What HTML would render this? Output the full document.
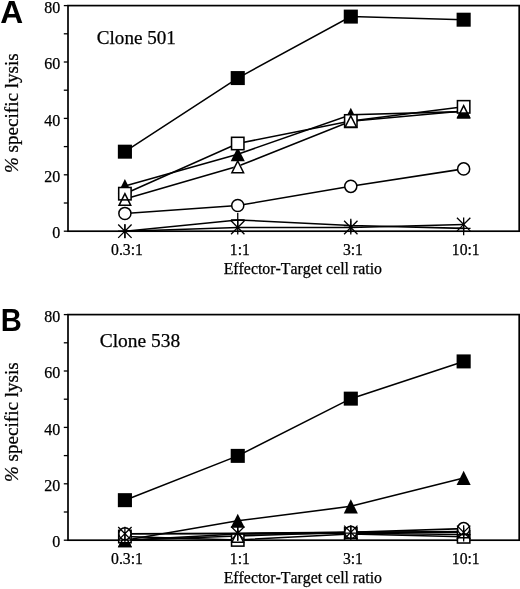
<!DOCTYPE html>
<html><head><meta charset="utf-8"><title>Figure</title>
<style>html,body{margin:0;padding:0;background:#fff}svg{display:block}</style>
</head><body>
<svg width="520" height="589" viewBox="0 0 520 589">
<style>
text{fill:#000;font-kerning:none;stroke:#000;stroke-width:0.25px}
.lab{stroke:none}
.t16{font-family:"Liberation Serif",serif;font-size:16px}
.t18{font-family:"Liberation Serif",serif;font-size:18px}
.t19{font-family:"Liberation Serif",serif;font-size:19.1px}
.lab{font-family:"Liberation Sans",sans-serif;font-weight:bold;font-size:29.5px}
</style>
<rect width="520" height="589" fill="#fff"/>
<rect x="68.0" y="5.60" width="451.20000000000005" height="225.60" fill="none" stroke="#000" stroke-width="1.7"/>
<line x1="63.8" y1="231.20" x2="68.0" y2="231.20" stroke="#000" stroke-width="1.3"/>
<line x1="63.8" y1="203.00" x2="68.0" y2="203.00" stroke="#000" stroke-width="1.3"/>
<line x1="63.8" y1="174.80" x2="68.0" y2="174.80" stroke="#000" stroke-width="1.3"/>
<line x1="63.8" y1="146.60" x2="68.0" y2="146.60" stroke="#000" stroke-width="1.3"/>
<line x1="63.8" y1="118.40" x2="68.0" y2="118.40" stroke="#000" stroke-width="1.3"/>
<line x1="63.8" y1="90.20" x2="68.0" y2="90.20" stroke="#000" stroke-width="1.3"/>
<line x1="63.8" y1="62.00" x2="68.0" y2="62.00" stroke="#000" stroke-width="1.3"/>
<line x1="63.8" y1="33.80" x2="68.0" y2="33.80" stroke="#000" stroke-width="1.3"/>
<line x1="63.8" y1="5.60" x2="68.0" y2="5.60" stroke="#000" stroke-width="1.3"/>
<text x="60.2" y="238.40" text-anchor="end" class="t16">0</text>
<text x="60.2" y="182.00" text-anchor="end" class="t16">20</text>
<text x="60.2" y="125.60" text-anchor="end" class="t16">40</text>
<text x="60.2" y="69.20" text-anchor="end" class="t16">60</text>
<text x="60.2" y="12.80" text-anchor="end" class="t16">80</text>
<text x="127.0" y="255.30" text-anchor="middle" class="t16" style="font-size:15.7px">0.3:1</text>
<text x="239.85" y="255.30" text-anchor="middle" class="t16" style="font-size:15.7px">1:1</text>
<text x="352.90000000000003" y="255.30" text-anchor="middle" class="t16" style="font-size:15.7px">3:1</text>
<text x="465.75" y="255.30" text-anchor="middle" class="t16" style="font-size:15.7px">10:1</text>
<text x="302.8" y="274.40" text-anchor="middle" class="t16" style="font-size:15.85px">Effector-Target cell ratio</text>
<text transform="translate(18.1,113.20) rotate(-90) scale(1.061,1)" text-anchor="middle" class="t18"><tspan font-style="italic">%</tspan> specific lysis</text>
<text x="96.8" y="43.50" class="t19">Clone 501</text>
<text transform="translate(0.3,23.0) scale(1.038,1)" class="lab" style="font-size:30.6px">A</text>
<polyline points="124.90,151.68 237.75,78.07 350.80,16.60 463.65,19.70" fill="none" stroke="#000" stroke-width="1.55"/>
<polyline points="124.90,186.08 237.75,154.21 350.80,114.73 463.65,111.63" fill="none" stroke="#000" stroke-width="1.55"/>
<polyline points="124.90,193.69 237.75,143.50 350.80,120.94 463.65,106.84" fill="none" stroke="#000" stroke-width="1.55"/>
<polyline points="124.90,199.05 237.75,166.34 350.80,121.22 463.65,111.07" fill="none" stroke="#000" stroke-width="1.55"/>
<polyline points="124.90,213.43 237.75,205.54 350.80,186.36 463.65,168.88" fill="none" stroke="#000" stroke-width="1.55"/>
<polyline points="124.90,231.20 237.75,227.53 350.80,227.53 463.65,224.43" fill="none" stroke="#000" stroke-width="1.55"/>
<polyline points="124.90,231.20 237.75,219.92 350.80,225.56 463.65,228.38" fill="none" stroke="#000" stroke-width="1.55"/>
<rect x="117.85" y="144.68" width="14.1" height="14" fill="#000"/>
<rect x="230.70" y="71.07" width="14.1" height="14" fill="#000"/>
<rect x="343.75" y="9.60" width="14.1" height="14" fill="#000"/>
<rect x="456.60" y="12.70" width="14.1" height="14" fill="#000"/>
<polygon points="124.90,192.00 131.95,206.10 117.85,206.10" fill="#fff"/>
<polygon points="237.75,159.29 244.80,173.39 230.70,173.39" fill="#fff"/>
<polygon points="350.80,114.17 357.85,128.27 343.75,128.27" fill="#fff"/>
<polygon points="463.65,104.02 470.70,118.12 456.60,118.12" fill="#fff"/>
<polygon points="124.90,179.03 131.95,193.13 117.85,193.13" fill="#000"/>
<polygon points="237.75,147.16 244.80,161.26 230.70,161.26" fill="#000"/>
<polygon points="350.80,107.68 357.85,121.78 343.75,121.78" fill="#000"/>
<polygon points="463.65,104.58 470.70,118.68 456.60,118.68" fill="#000"/>
<rect x="118.70" y="187.49" width="12.4" height="12.4" fill="#fff" stroke="#000" stroke-width="1.55"/>
<rect x="231.55" y="137.30" width="12.4" height="12.4" fill="#fff" stroke="#000" stroke-width="1.55"/>
<rect x="344.60" y="114.74" width="12.4" height="12.4" fill="#fff" stroke="#000" stroke-width="1.55"/>
<rect x="457.45" y="100.64" width="12.4" height="12.4" fill="#fff" stroke="#000" stroke-width="1.55"/>
<polygon points="124.90,193.68 130.74,205.35 119.06,205.35" fill="none" stroke="#000" stroke-width="1.5" stroke-linejoin="miter"/>
<polygon points="237.75,160.97 243.59,172.64 231.91,172.64" fill="none" stroke="#000" stroke-width="1.5" stroke-linejoin="miter"/>
<polygon points="350.80,115.85 356.64,127.52 344.96,127.52" fill="none" stroke="#000" stroke-width="1.5" stroke-linejoin="miter"/>
<polygon points="463.65,105.70 469.49,117.37 457.81,117.37" fill="none" stroke="#000" stroke-width="1.5" stroke-linejoin="miter"/>
<circle cx="124.90" cy="213.43" r="6.05" fill="#fff" stroke="#000" stroke-width="1.5"/>
<circle cx="237.75" cy="205.54" r="6.05" fill="#fff" stroke="#000" stroke-width="1.5"/>
<circle cx="350.80" cy="186.36" r="6.05" fill="#fff" stroke="#000" stroke-width="1.5"/>
<circle cx="463.65" cy="168.88" r="6.05" fill="#fff" stroke="#000" stroke-width="1.5"/>
<path d="M118.20,224.50L131.60,237.90M118.20,237.90L131.60,224.50M124.90,224.20L124.90,238.20" fill="none" stroke="#000" stroke-width="1.3"/>
<path d="M231.05,220.83L244.45,234.23M231.05,234.23L244.45,220.83M237.75,220.53L237.75,234.53" fill="none" stroke="#000" stroke-width="1.3"/>
<path d="M344.10,220.83L357.50,234.23M344.10,234.23L357.50,220.83M350.80,220.53L350.80,234.53" fill="none" stroke="#000" stroke-width="1.3"/>
<path d="M456.95,217.73L470.35,231.13M456.95,231.13L470.35,217.73M463.65,217.43L463.65,231.43" fill="none" stroke="#000" stroke-width="1.3"/>
<path d="M118.00,231.20L131.80,231.20M124.90,224.30L124.90,238.10" fill="none" stroke="#000" stroke-width="1.3"/>
<path d="M230.85,219.92L244.65,219.92M237.75,213.02L237.75,226.82" fill="none" stroke="#000" stroke-width="1.3"/>
<path d="M343.90,225.56L357.70,225.56M350.80,218.66L350.80,232.46" fill="none" stroke="#000" stroke-width="1.3"/>
<path d="M456.75,228.38L470.55,228.38M463.65,221.48L463.65,235.28" fill="none" stroke="#000" stroke-width="1.3"/>
<rect x="68.0" y="314.60" width="451.20000000000005" height="225.60" fill="none" stroke="#000" stroke-width="1.7"/>
<line x1="63.8" y1="540.20" x2="68.0" y2="540.20" stroke="#000" stroke-width="1.3"/>
<line x1="63.8" y1="512.00" x2="68.0" y2="512.00" stroke="#000" stroke-width="1.3"/>
<line x1="63.8" y1="483.80" x2="68.0" y2="483.80" stroke="#000" stroke-width="1.3"/>
<line x1="63.8" y1="455.60" x2="68.0" y2="455.60" stroke="#000" stroke-width="1.3"/>
<line x1="63.8" y1="427.40" x2="68.0" y2="427.40" stroke="#000" stroke-width="1.3"/>
<line x1="63.8" y1="399.20" x2="68.0" y2="399.20" stroke="#000" stroke-width="1.3"/>
<line x1="63.8" y1="371.00" x2="68.0" y2="371.00" stroke="#000" stroke-width="1.3"/>
<line x1="63.8" y1="342.80" x2="68.0" y2="342.80" stroke="#000" stroke-width="1.3"/>
<line x1="63.8" y1="314.60" x2="68.0" y2="314.60" stroke="#000" stroke-width="1.3"/>
<text x="60.2" y="547.40" text-anchor="end" class="t16">0</text>
<text x="60.2" y="491.00" text-anchor="end" class="t16">20</text>
<text x="60.2" y="434.60" text-anchor="end" class="t16">40</text>
<text x="60.2" y="378.20" text-anchor="end" class="t16">60</text>
<text x="60.2" y="321.80" text-anchor="end" class="t16">80</text>
<text x="127.0" y="564.30" text-anchor="middle" class="t16" style="font-size:15.7px">0.3:1</text>
<text x="239.85" y="564.30" text-anchor="middle" class="t16" style="font-size:15.7px">1:1</text>
<text x="352.90000000000003" y="564.30" text-anchor="middle" class="t16" style="font-size:15.7px">3:1</text>
<text x="465.75" y="564.30" text-anchor="middle" class="t16" style="font-size:15.7px">10:1</text>
<text x="302.8" y="583.40" text-anchor="middle" class="t16" style="font-size:15.85px">Effector-Target cell ratio</text>
<text transform="translate(18.1,422.20) rotate(-90) scale(1.061,1)" text-anchor="middle" class="t18"><tspan font-style="italic">%</tspan> specific lysis</text>
<text x="99.7" y="347.30" class="t19" style="font-size:19.45px">Clone 538</text>
<text transform="translate(0.65,330.8) scale(0.94,1)" class="lab" style="font-size:31.0px">B</text>
<polyline points="124.90,500.16 237.75,455.88 350.80,398.64 463.65,361.41" fill="none" stroke="#000" stroke-width="1.55"/>
<polyline points="124.90,540.20 237.75,520.74 350.80,506.36 463.65,477.88" fill="none" stroke="#000" stroke-width="1.55"/>
<polyline points="124.90,536.53 237.75,539.92 350.80,534.00 463.65,536.82" fill="none" stroke="#000" stroke-width="1.55"/>
<polyline points="124.90,540.20 237.75,535.97 350.80,532.30 463.65,531.46" fill="none" stroke="#000" stroke-width="1.55"/>
<polyline points="124.90,533.71 237.75,533.71 350.80,532.30 463.65,528.64" fill="none" stroke="#000" stroke-width="1.55"/>
<polyline points="124.90,533.71 237.75,533.15 350.80,532.30 463.65,532.30" fill="none" stroke="#000" stroke-width="1.55"/>
<polyline points="124.90,540.20 237.75,534.00 350.80,533.15 463.65,534.56" fill="none" stroke="#000" stroke-width="1.55"/>
<rect x="117.85" y="493.16" width="14.1" height="14" fill="#000"/>
<rect x="230.70" y="448.88" width="14.1" height="14" fill="#000"/>
<rect x="343.75" y="391.64" width="14.1" height="14" fill="#000"/>
<rect x="456.60" y="354.41" width="14.1" height="14" fill="#000"/>
<polygon points="124.90,533.15 131.95,547.25 117.85,547.25" fill="#fff"/>
<polygon points="237.75,528.92 244.80,543.02 230.70,543.02" fill="#fff"/>
<polygon points="350.80,525.25 357.85,539.35 343.75,539.35" fill="#fff"/>
<polygon points="463.65,524.41 470.70,538.51 456.60,538.51" fill="#fff"/>
<polygon points="124.90,533.15 131.95,547.25 117.85,547.25" fill="#000"/>
<polygon points="237.75,513.69 244.80,527.79 230.70,527.79" fill="#000"/>
<polygon points="350.80,499.31 357.85,513.41 343.75,513.41" fill="#000"/>
<polygon points="463.65,470.83 470.70,484.93 456.60,484.93" fill="#000"/>
<rect x="118.70" y="530.33" width="12.4" height="12.4" fill="#fff" stroke="#000" stroke-width="1.55"/>
<rect x="231.55" y="533.72" width="12.4" height="12.4" fill="#fff" stroke="#000" stroke-width="1.55"/>
<rect x="344.60" y="527.80" width="12.4" height="12.4" fill="#fff" stroke="#000" stroke-width="1.55"/>
<rect x="457.45" y="530.62" width="12.4" height="12.4" fill="#fff" stroke="#000" stroke-width="1.55"/>
<polygon points="124.90,534.83 130.74,546.50 119.06,546.50" fill="none" stroke="#000" stroke-width="1.5" stroke-linejoin="miter"/>
<polygon points="237.75,530.60 243.59,542.27 231.91,542.27" fill="none" stroke="#000" stroke-width="1.5" stroke-linejoin="miter"/>
<polygon points="350.80,526.93 356.64,538.60 344.96,538.60" fill="none" stroke="#000" stroke-width="1.5" stroke-linejoin="miter"/>
<polygon points="463.65,526.09 469.49,537.76 457.81,537.76" fill="none" stroke="#000" stroke-width="1.5" stroke-linejoin="miter"/>
<circle cx="124.90" cy="533.71" r="6.05" fill="#fff" stroke="#000" stroke-width="1.5"/>
<circle cx="350.80" cy="532.30" r="6.05" fill="#fff" stroke="#000" stroke-width="1.5"/>
<circle cx="463.65" cy="528.64" r="6.05" fill="#fff" stroke="#000" stroke-width="1.5"/>
<path d="M118.20,527.01L131.60,540.41M118.20,540.41L131.60,527.01M124.90,526.71L124.90,540.71" fill="none" stroke="#000" stroke-width="1.3"/>
<path d="M231.05,526.45L244.45,539.85M231.05,539.85L244.45,526.45M237.75,526.15L237.75,540.15" fill="none" stroke="#000" stroke-width="1.3"/>
<path d="M344.10,525.60L357.50,539.00M344.10,539.00L357.50,525.60M350.80,525.30L350.80,539.30" fill="none" stroke="#000" stroke-width="1.3"/>
<path d="M456.95,525.60L470.35,539.00M456.95,539.00L470.35,525.60M463.65,525.30L463.65,539.30" fill="none" stroke="#000" stroke-width="1.3"/>
<path d="M118.00,540.20L131.80,540.20M124.90,533.30L124.90,547.10" fill="none" stroke="#000" stroke-width="1.3"/>
<path d="M230.85,534.00L244.65,534.00M237.75,527.10L237.75,540.90" fill="none" stroke="#000" stroke-width="1.3"/>
<path d="M343.90,533.15L357.70,533.15M350.80,526.25L350.80,540.05" fill="none" stroke="#000" stroke-width="1.3"/>
<path d="M456.75,534.56L470.55,534.56M463.65,527.66L463.65,541.46" fill="none" stroke="#000" stroke-width="1.3"/>
</svg>
</body></html>
